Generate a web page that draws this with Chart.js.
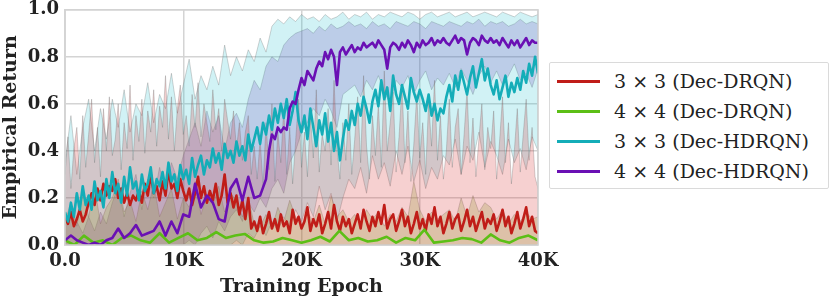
<!DOCTYPE html>
<html>
<head>
<meta charset="utf-8">
<script src="https://cdn.jsdelivr.net/npm/chart.js@4.4.1/dist/chart.umd.min.js"></script>
<style>
    body { margin: 0; background: #fff; }
    #wrap { position: relative; width: 831px; height: 298px; overflow: hidden; }
    #chart { position: absolute; left: 0; top: -7px; }
    #legend {
        position: absolute; left: 549px; top: 62px; width: 280px; height: 127px;
        border: 1px solid #dadada; border-radius: 2px; background: #fff;
        font-family: 'DejaVu Serif', serif; font-size: 19px; color: #222;
        padding-top: 3px; box-sizing: border-box;
    }
    .row { position: relative; height: 30px; line-height: 30px; }
    .row .swatch { position: absolute; left: 7px; top: 14px; width: 43px; height: 3px; }
    .row .txt { position: absolute; left: 64px; top: 0; white-space: nowrap; }
</style>
</head>
<body>
<div id="wrap">
    <canvas id="chart" width="831" height="307"></canvas>
    <div id="legend"></div>
</div>
<script>
const seriesLabels = ['3 × 3 (Dec-DRQN)', '4 × 4 (Dec-DRQN)', '3 × 3 (Dec-HDRQN)', '4 × 4 (Dec-HDRQN)'];
const seriesColors = ['#c01d18', '#5cbf16', '#14adb8', '#6a10b4'];
const bandColors = ['rgba(214,39,40,0.22)', 'rgba(110,170,20,0.22)', 'rgba(23,190,207,0.2)', 'rgba(120,20,170,0.2)'];
const xTickLabels = ['0.0', '10K', '20K', '30K', '40K'];
const yTickLabels = ['0.0', '0.2', '0.4', '0.6', '0.8', '1.0'];

// 3x3 Dec-DRQN, every 250 epochs
const redMean = [
    0.12, 0.09, 0.14, 0.08, 0.11, 0.15, 0.10, 0.13, 0.18,
    0.22, 0.17, 0.24, 0.19, 0.26, 0.21, 0.25, 0.23,
    0.28, 0.20, 0.24, 0.18, 0.22, 0.17, 0.21, 0.19,
    0.23, 0.18, 0.26, 0.21, 0.30, 0.22, 0.25, 0.19,
    0.27, 0.21, 0.32, 0.24, 0.26, 0.20, 0.28, 0.23,
    0.19, 0.24, 0.17, 0.22, 0.29, 0.20, 0.25, 0.18,
    0.23, 0.19, 0.26, 0.17, 0.21, 0.30, 0.18, 0.22,
    0.16, 0.21, 0.13, 0.19, 0.11, 0.20, 0.07, 0.10,
    0.06, 0.12, 0.05, 0.09, 0.14, 0.07, 0.11, 0.06,
    0.13, 0.08, 0.10, 0.05, 0.15, 0.09, 0.12, 0.07,
    0.10, 0.16, 0.06, 0.11, 0.08, 0.13, 0.05, 0.09,
    0.14, 0.07, 0.17, 0.10, 0.06, 0.12, 0.08, 0.11,
    0.05, 0.09, 0.13, 0.07, 0.15, 0.10, 0.06, 0.12,
    0.08, 0.14, 0.09, 0.17, 0.07, 0.11, 0.13, 0.06,
    0.10, 0.15, 0.08, 0.12, 0.05, 0.09, 0.14, 0.07,
    0.11, 0.06, 0.13, 0.09, 0.16, 0.08, 0.12, 0.05,
    0.09, 0.14, 0.07, 0.11, 0.13, 0.06, 0.10, 0.15,
    0.08, 0.12, 0.06, 0.10, 0.14, 0.07, 0.11, 0.09,
    0.13, 0.06, 0.10, 0.15, 0.08, 0.12, 0.05, 0.09,
    0.14, 0.07, 0.11, 0.16, 0.08, 0.12, 0.06, 0.05
];
const redUpper = [
    0.30, 0.46, 0.24, 0.41, 0.50, 0.28, 0.55, 0.33, 0.47,
    0.62, 0.35, 0.50, 0.29, 0.58, 0.40, 0.63, 0.38,
    0.45, 0.60, 0.32, 0.52, 0.41, 0.68, 0.36, 0.55,
    0.44, 0.62, 0.39, 0.57, 0.48, 0.66, 0.42, 0.59,
    0.50, 0.72, 0.45, 0.63, 0.40, 0.58, 0.68, 0.47,
    0.55, 0.42, 0.64, 0.50, 0.69, 0.46, 0.60, 0.52,
    0.44, 0.66, 0.49, 0.58, 0.40, 0.62, 0.53, 0.45,
    0.57, 0.41, 0.52, 0.36, 0.48, 0.55, 0.30, 0.42,
    0.28, 0.45, 0.25, 0.52, 0.32, 0.60, 0.27, 0.48,
    0.35, 0.58, 0.30, 0.50, 0.26, 0.44, 0.62, 0.33,
    0.48, 0.29, 0.55, 0.37, 0.66, 0.31, 0.47, 0.40,
    0.58, 0.34, 0.70, 0.41, 0.28, 0.52, 0.36, 0.60,
    0.30, 0.45, 0.63, 0.35, 0.72, 0.42, 0.28, 0.55,
    0.38, 0.60, 0.33, 0.74, 0.40, 0.52, 0.65, 0.31,
    0.46, 0.68, 0.35, 0.57, 0.27, 0.43, 0.64, 0.37,
    0.52, 0.30, 0.61, 0.42, 0.70, 0.36, 0.55, 0.28,
    0.40, 0.62, 0.33, 0.50, 0.58, 0.30, 0.47, 0.66,
    0.35, 0.54, 0.29, 0.45, 0.60, 0.32, 0.50, 0.41,
    0.57, 0.28, 0.44, 0.63, 0.35, 0.52, 0.26, 0.40,
    0.58, 0.31, 0.47, 0.62, 0.36, 0.50, 0.29, 0.24
];

// 4x4 Dec-DRQN, every 800 epochs (band every 500)
const greenMean = [
    0.02, 0.00, 0.04, 0.01, 0.02, 0.00, 0.03, 0.04, 0.02, 0.01,
    0.05, 0.01, 0.03, 0.05, 0.02, 0.03, 0.055, 0.03, 0.04, 0.047,
    0.02, 0.01, 0.015, 0.03, 0.02, 0.01, 0.02, 0.035, 0.015, 0.06,
    0.02, 0.03, 0.015, 0.02, 0.035, 0.01, 0.03, 0.02, 0.065, 0.01,
    0.015, 0.02, 0.03, 0.025, 0.01, 0.045, 0.02, 0.01, 0.03, 0.04,
    0.02
];
const greenUpper = [
    0.10, 0.18, 0.08, 0.22, 0.12, 0.25, 0.09, 0.16, 0.20,
    0.28, 0.14, 0.19, 0.10, 0.23, 0.15, 0.26, 0.12,
    0.18, 0.24, 0.11, 0.20, 0.16, 0.27, 0.13, 0.21,
    0.17, 0.25, 0.14, 0.22, 0.19, 0.12, 0.20, 0.09,
    0.08, 0.13, 0.07, 0.16, 0.10, 0.19, 0.12, 0.08,
    0.14, 0.10, 0.17, 0.09, 0.21, 0.12, 0.15, 0.10,
    0.13, 0.09, 0.15, 0.11, 0.14, 0.08, 0.13, 0.10,
    0.16, 0.12, 0.27, 0.15, 0.10, 0.14, 0.11, 0.13,
    0.15, 0.10, 0.20, 0.12, 0.21, 0.14, 0.18, 0.16,
    0.11, 0.15, 0.09, 0.13, 0.10, 0.14, 0.11, 0.12
];

// 3x3 Dec-HDRQN, mean every 250, band every 500
const cyanMean = [
    0.14, 0.10, 0.18, 0.12, 0.22, 0.15, 0.25, 0.17, 0.21,
    0.15, 0.27, 0.19, 0.23, 0.16, 0.28, 0.20, 0.31,
    0.22, 0.26, 0.18, 0.29, 0.21, 0.33, 0.24, 0.27,
    0.19, 0.30, 0.23, 0.26, 0.33, 0.22, 0.28, 0.25,
    0.31, 0.24, 0.35, 0.27, 0.30, 0.23, 0.34, 0.28,
    0.32, 0.26, 0.37, 0.29, 0.34, 0.38, 0.30, 0.36,
    0.33, 0.41, 0.35, 0.39, 0.32, 0.43, 0.37, 0.40,
    0.35, 0.44, 0.38, 0.42, 0.36, 0.47, 0.40, 0.45,
    0.50, 0.43, 0.52, 0.47, 0.55, 0.49, 0.58, 0.52,
    0.60, 0.54, 0.62, 0.51, 0.57, 0.65, 0.53, 0.48,
    0.55, 0.45, 0.58, 0.50, 0.42, 0.53, 0.47, 0.56,
    0.44, 0.52, 0.40, 0.48, 0.36, 0.45, 0.53, 0.49,
    0.57, 0.51, 0.60, 0.55, 0.63, 0.58, 0.52, 0.61,
    0.66, 0.59, 0.70, 0.62, 0.67, 0.57, 0.72, 0.64,
    0.60, 0.68, 0.63, 0.58, 0.71, 0.65, 0.61, 0.66,
    0.62, 0.57, 0.64, 0.55, 0.60, 0.53, 0.58, 0.56,
    0.63, 0.68, 0.61, 0.72, 0.66, 0.74, 0.69, 0.64,
    0.71, 0.76, 0.67, 0.73, 0.79, 0.70, 0.75, 0.68,
    0.64, 0.70, 0.62, 0.67, 0.72, 0.63, 0.69, 0.65,
    0.71, 0.66, 0.74, 0.69, 0.77, 0.72, 0.80, 0.73
];
const cyanUpper = [
    0.35, 0.55, 0.30, 0.50, 0.62, 0.40, 0.58, 0.45, 0.62,
    0.50, 0.66, 0.48, 0.60, 0.55, 0.69, 0.52, 0.64,
    0.58, 0.73, 0.56, 0.68, 0.79, 0.62, 0.72, 0.66,
    0.76, 0.68, 0.85, 0.72, 0.80, 0.74, 0.83, 0.78,
    0.88, 0.82, 0.93, 0.96, 0.94, 0.97, 0.95, 0.98,
    0.96, 0.97, 0.95, 0.98, 0.96, 0.97, 0.99, 0.96,
    0.98, 0.97, 0.99, 0.96, 0.98, 0.97, 0.99, 0.98,
    0.97, 0.99, 0.98, 0.96, 0.98, 0.99, 0.97, 0.98,
    0.99, 0.97, 0.98, 0.99, 0.97, 0.98, 0.99, 0.98,
    0.97, 0.99, 0.98, 0.97, 0.99, 0.98, 0.97, 0.98
];
const cyanLower = [
    0, 0, 0, 0, 0, 0, 0, 0, 0, 0, 0, 0, 0, 0, 0, 0, 0, 0, 0, 0,
    0, 0, 0, 0, 0, 0, 0, 0, 0,
    0.02, 0.00, 0.05, 0.03, 0.08, 0.04, 0.10, 0.06, 0.12, 0.08, 0.15, 0.10,
    0.18, 0.12, 0.25, 0.15, 0.22, 0.10, 0.20, 0.28,
    0.24, 0.33, 0.22, 0.38, 0.28, 0.35, 0.25, 0.40,
    0.30, 0.42, 0.27, 0.36, 0.24, 0.33, 0.28, 0.38,
    0.34, 0.45, 0.30, 0.42, 0.36, 0.48, 0.33, 0.44,
    0.38, 0.30, 0.45, 0.35, 0.41, 0.32, 0.46, 0.40
];

// 4x4 Dec-HDRQN, every 500 up to 17K, then every 250
const purpleEarly = [
    0.02, 0.04, 0.02, 0.01, 0.00, 0.01, 0.00, 0.02, 0.03, 0.07,
    0.03, 0.05, 0.085, 0.04, 0.05, 0.06, 0.10, 0.04, 0.10, 0.05,
    0.13, 0.12, 0.26, 0.16, 0.21, 0.18, 0.11, 0.10, 0.24, 0.28,
    0.19, 0.29, 0.20, 0.21, 0.28
];
const purpleLate = [
    0.40, 0.47, 0.45, 0.50, 0.48, 0.50, 0.49, 0.58, 0.61, 0.60, 0.66,
    0.71, 0.68, 0.74, 0.72, 0.70, 0.75, 0.78, 0.76,
    0.82, 0.79, 0.83, 0.80, 0.68, 0.82, 0.84, 0.81,
    0.83, 0.85, 0.82, 0.84, 0.83, 0.86, 0.84, 0.85,
    0.86, 0.84, 0.87, 0.85, 0.83, 0.75, 0.84, 0.86,
    0.85, 0.83, 0.86, 0.84, 0.87, 0.85, 0.82, 0.86,
    0.84, 0.87, 0.85, 0.86, 0.88, 0.85, 0.87, 0.86,
    0.88, 0.86, 0.85, 0.87, 0.89, 0.86, 0.88, 0.87,
    0.81, 0.86, 0.88, 0.87, 0.85, 0.89, 0.87, 0.86,
    0.88, 0.86, 0.87, 0.85, 0.88, 0.86, 0.84, 0.87,
    0.85, 0.87, 0.84, 0.86, 0.88, 0.85, 0.87, 0.86,
    0.86
];
const purpleUpper = [
    0.08, 0.15, 0.10, 0.05, 0.12, 0.06, 0.14, 0.09, 0.18,
    0.25, 0.12, 0.22, 0.30, 0.15, 0.28, 0.20, 0.33,
    0.22, 0.35, 0.28, 0.38, 0.45, 0.52, 0.42, 0.57,
    0.48, 0.55, 0.40, 0.52, 0.56, 0.50, 0.62, 0.70,
    0.66, 0.76, 0.80, 0.78, 0.85, 0.88, 0.90, 0.91,
    0.92, 0.90, 0.93, 0.91, 0.94, 0.92, 0.93, 0.95,
    0.93, 0.94, 0.92, 0.95, 0.93, 0.94, 0.92, 0.95,
    0.94, 0.93, 0.95, 0.94, 0.92, 0.95, 0.94, 0.93,
    0.95, 0.94, 0.93, 0.95, 0.94, 0.96, 0.93, 0.95,
    0.94, 0.95, 0.93, 0.94, 0.96, 0.94, 0.95, 0.94
];
const purpleLower = [
    0, 0, 0, 0, 0, 0, 0, 0, 0, 0, 0, 0, 0, 0, 0, 0, 0, 0, 0, 0, 0,
    0.02, 0.00, 0.05, 0.08, 0.03, 0.10, 0.06, 0.12, 0.15, 0.10, 0.18, 0.14,
    0.20, 0.16, 0.24, 0.28, 0.22, 0.35, 0.40, 0.48,
    0.52, 0.58, 0.55, 0.62, 0.57, 0.50, 0.64, 0.66,
    0.68, 0.63, 0.70, 0.66, 0.72, 0.65, 0.60, 0.70,
    0.67, 0.72, 0.64, 0.70, 0.74, 0.66, 0.71, 0.68,
    0.73, 0.67, 0.75, 0.70, 0.64, 0.72, 0.76, 0.69,
    0.74, 0.68, 0.72, 0.77, 0.70, 0.73, 0.67, 0.75
];

function pts(values, step, start) {
    return values.map((v, i) => ({ x: (start || 0) + i * step, y: v }));
}

const edgeColor = 'rgba(110,110,110,0.38)';

function band(data, bg, fill) {
    return {
        data: data, borderColor: edgeColor, borderWidth: 0.8,
        backgroundColor: bg, fill: fill, order: 10
    };
}

function meanLine(data, i, order) {
    return {
        data: data, borderColor: seriesColors[i], borderWidth: 2.6,
        fill: false, order: order, borderJoinStyle: 'round'
    };
}

const datasets = [
    band(pts(redUpper, 250), bandColors[0], 'origin'),
    band(pts(greenUpper, 500), bandColors[1], 'origin'),
    band(pts(cyanLower, 500), 'transparent', false),
    band(pts(cyanUpper, 500), bandColors[2], '-1'),
    band(pts(purpleLower, 500), 'transparent', false),
    band(pts(purpleUpper, 500), bandColors[3], '-1'),
    meanLine(pts(redMean, 250), 0, 3),
    meanLine(pts(greenMean, 800), 1, 2),
    meanLine(pts(cyanMean, 250), 2, 1),
    meanLine(pts(purpleEarly, 500).concat(pts(purpleLate, 250, 17250)), 3, 0)
];

const gridColor = '#d4d4d4';
const tickFont = { family: 'DejaVu Serif', size: 18, weight: 'bold' };
const titleFont = { family: 'DejaVu Serif', size: 19, weight: 'bold' };

new Chart(document.getElementById('chart'), {
    type: 'line',
    data: { datasets: datasets },
    options: {
        responsive: false,
        animation: false,
        layout: { padding: { left: 0, top: 0, right: 293, bottom: 0 } },
        elements: { point: { radius: 0 }, line: { tension: 0 } },
        plugins: { legend: { display: false }, tooltip: { enabled: false } },
        scales: {
            x: {
                type: 'linear', min: 0, max: 40000,
                ticks: {
                    stepSize: 10000, padding: 6, color: '#222', font: tickFont,
                    maxRotation: 0,
                    callback: (v, i) => xTickLabels[i]
                },
                grid: { color: gridColor, lineWidth: 1.5, drawTicks: false },
                border: { color: gridColor, width: 1.5 },
                title: { display: true, text: 'Training Epoch', color: '#222', font: titleFont, padding: { top: 0, bottom: 2 } },
                afterFit: s => { s.height = 55; }
            },
            y: {
                min: 0, max: 1,
                ticks: {
                    stepSize: 0.2, padding: 6, color: '#222', font: tickFont,
                    callback: (v, i) => yTickLabels[i]
                },
                grid: { color: gridColor, lineWidth: 1.5, drawTicks: false },
                border: { color: gridColor, width: 1.5 },
                title: { display: true, text: 'Empirical Return', color: '#222', font: titleFont, padding: { top: 0, bottom: 0 } },
                afterFit: s => { s.width = 65; }
            }
        }
    },
    plugins: [{
        id: 'frame',
        afterDraw(chart) {
            const a = chart.chartArea, ctx = chart.ctx;
            ctx.save();
            ctx.strokeStyle = gridColor;
            ctx.lineWidth = 1.5;
            ctx.strokeRect(a.left, a.top, a.right - a.left, a.bottom - a.top);
            ctx.restore();
        }
    }]
});

const legend = document.getElementById('legend');
seriesLabels.forEach((label, i) => {
    const row = document.createElement('div');
    row.className = 'row';
    row.innerHTML = `<span class="swatch" style="background:${seriesColors[i]}"></span><span class="txt">${label}</span>`;
    legend.appendChild(row);
});
</script>
</body>
</html>
